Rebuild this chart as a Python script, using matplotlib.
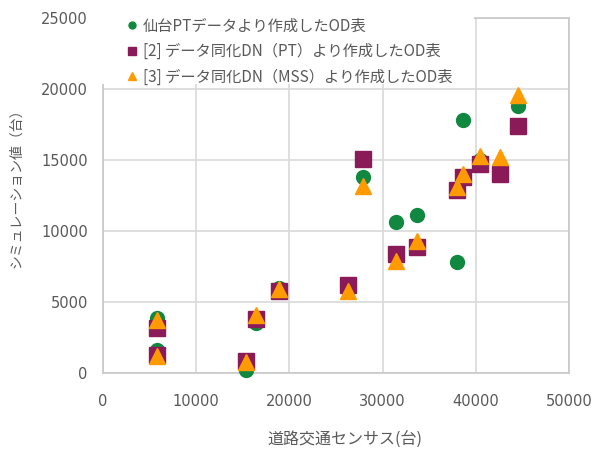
import matplotlib
matplotlib.use("Agg")
import matplotlib.pyplot as plt
from matplotlib.patches import Rectangle

plt.rcParams['font.family'] = ['Noto Sans CJK JP', 'DejaVu Sans']

# Observed census counts (x) and simulated counts for each OD table
census = [5800, 5800, 15300, 16400, 18900, 26300, 27900, 31400, 33700,
          38000, 38600, 40400, 42600, 44500]
sim_pt = [3900, 1600, 200, 3500, 6000, 6100, 13800, 10600, 11100,
          7800, 17800, 15000, 14200, 18800]
sim_dn_pt = [3200, 1300, 850, 3800, 5800, 6200, 15100, 8400, 8900,
             12900, 13800, 14700, 14000, 17400]
sim_dn_mss = [3700, 1200, 750, 4100, 5900, 5800, 13200, 7900, 9300,
              13100, 14000, 15300, 15200, 19600]

labels = ["仙台PTデータより作成したOD表",
          "[2] データ同化DN（PT）より作成したOD表",
          "[3] データ同化DN（MSS）より作成したOD表"]

x_ticks = [0, 10000, 20000, 30000, 40000, 50000]
y_ticks = [0, 5000, 10000, 15000, 20000, 25000]

c_green = "#11883f"
c_purple = "#8a1a58"
c_orange = "#ff9a00"
grid_c = "#d9d9d9"
text_c = "#595959"

fig = plt.figure(figsize=(5.97, 4.5), dpi=100)
ax = fig.add_axes([103 / 597, 1 - 373 / 450, 466 / 597, 355 / 450])

h1, = ax.plot(census, sim_pt, 'o', color=c_green, ms=10, mec=c_green,
              linestyle='none', zorder=4, clip_on=False)
h2, = ax.plot(census, sim_dn_pt, 's', color=c_purple, ms=11, mec=c_purple,
              linestyle='none', zorder=5, clip_on=False)
h3, = ax.plot(census, sim_dn_mss, '^', color=c_orange, ms=11, mec=c_orange,
              linestyle='none', zorder=6, clip_on=False)

ax.set_xlim(0, 50000)
ax.set_ylim(0, 25000)
ax.set_xticks(x_ticks)
ax.set_yticks(y_ticks)
ax.grid(True, color=grid_c, linewidth=1.2)
ax.set_axisbelow(True)
for s in ax.spines.values():
    s.set_color("#c8c8c8")
    s.set_linewidth(1.2)
ax.tick_params(length=0, colors=text_c)
ax.tick_params(axis='x', pad=15)
ax.tick_params(axis='y', pad=11)
for lab in ax.get_xticklabels() + ax.get_yticklabels():
    lab.set_fontfamily('DejaVu Sans')
    lab.set_fontsize(10.5)

fig.text(345 / 597, 1 - 440 / 450, "道路交通センサス(台)", color=text_c,
         fontsize=11.5, ha='center', va='center')
fig.text(16 / 597, 1 - 185 / 450, "シミュレーション値（台）", color=text_c,
         fontsize=10, ha='center', va='center', rotation=90)

# White block behind the legend, overlapping the top of the plot area
ax.add_patch(Rectangle((-800, 20350), 40600, 6000, facecolor='white',
                       edgecolor='none', zorder=3, clip_on=False,
                       transform=ax.transData))

fig.legend([h1, h2, h3], labels, loc='upper left',
           bbox_to_anchor=(113 / 597, 1 - 4 / 450), frameon=False,
           fontsize=11, markerscale=0.5, handlelength=0.7,
           handletextpad=0.35, labelspacing=0.55, labelcolor=text_c)

fig.savefig("out.png", dpi=100)
